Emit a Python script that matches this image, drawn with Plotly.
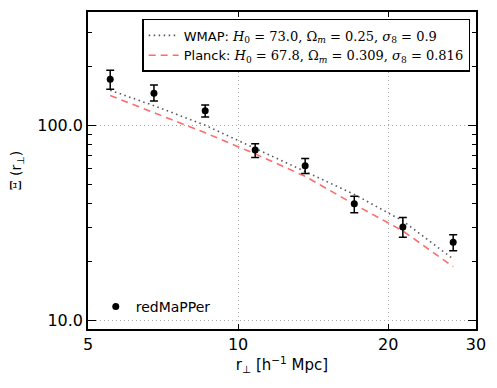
import plotly.graph_objects as go

# data
r_perp = [5.54, 6.78, 8.59, 10.82, 13.63, 17.1, 21.4, 27.0]
xi_obs = [172, 146, 118.5, 74.8, 62.1, 39.7, 30.2, 25.2]
xi_hi = [191, 160.5, 127, 80.5, 67.6, 43.4, 33.7, 27.5]
xi_lo = [153, 133, 110.4, 68.4, 56.7, 35.7, 26.7, 22.8]
wmap = [151, 126, 100, 76.5, 58, 44.3, 32.4, 20.7]
planck = [142, 116, 91.5, 71.4, 54.8, 39.4, 28.8, 18.9]

x_ticks = [5, 10, 20, 30]
y_ticks = [10, 100]
y_ticktext = ["10.0", "100.0"]
y_minor = [20, 30, 40, 50, 60, 70, 80, 90, 200, 300]

err_plus = [h - v for h, v in zip(xi_hi, xi_obs)]
err_minus = [v - l for l, v in zip(xi_lo, xi_obs)]

MATH = "font-family:'DejaVu Serif'"
wmap_name = ("WMAP: <span style=\"" + MATH + "\"><i>H</i><sub>0</sub> = 73.0, "
             "Ω<sub><i>m</i></sub> = 0.25, <i>σ</i><sub>8</sub> = 0.9</span>")
planck_name = ("Planck: <span style=\"" + MATH + "\"><i>H</i><sub>0</sub> = 67.8, "
               "Ω<sub><i>m</i></sub> = 0.309, <i>σ</i><sub>8</sub> = 0.816</span>")

fig = go.Figure()
fig.add_trace(go.Scatter(
    x=r_perp, y=wmap, mode="lines", name=wmap_name,
    line=dict(color="#555555", width=1.6, dash="1.5px,3.5px"),
    legend="legend"))
fig.add_trace(go.Scatter(
    x=r_perp, y=planck, mode="lines", name=planck_name,
    line=dict(color="#ff6b6b", width=1.6, dash="7px,5px"),
    legend="legend"))
fig.add_trace(go.Scatter(
    x=r_perp, y=xi_obs, mode="markers", name="redMaPPer",
    marker=dict(color="black", size=7),
    error_y=dict(type="data", symmetric=False, array=err_plus,
                 arrayminus=err_minus, color="black", thickness=1.5, width=4),
    legend="legend2"))

# page body adds an 8px margin; figure is sized/offset to compensate
fig.update_layout(
    width=489, height=380,
    margin=dict(l=80, r=21, t=2, b=59),
    paper_bgcolor="white", plot_bgcolor="white",
    font=dict(family="DejaVu Sans", size=14, color="black"),
    showlegend=True,
    legend=dict(x=0.985, y=0.978, xanchor="right", yanchor="top",
                bgcolor="white", bordercolor="black", borderwidth=1.5,
                font=dict(size=13), itemwidth=30, tracegroupgap=0),
    legend2=dict(x=0.02, y=0.07, xanchor="left", yanchor="middle",
                 bgcolor="rgba(0,0,0,0)", borderwidth=0,
                 font=dict(size=14), itemwidth=30),
)

fig.update_xaxes(
    type="log", range=[0.69897, 1.47712],
    tickvals=x_ticks, ticktext=[str(v) for v in x_ticks],
    ticks="inside", ticklen=5, tickwidth=1, tickcolor="black",
    showline=True, linecolor="black", linewidth=1.5, mirror="allticks",
    showgrid=True, gridcolor="#a8a8a8", griddash="1px,3px", gridwidth=1,
    zeroline=False, tickfont=dict(size=16),
    title=dict(text="r<sub>⊥</sub> [h<sup>−1</sup> Mpc]", font=dict(size=15), standoff=6),
)
fig.update_yaxes(
    type="log", range=[0.9577, 2.5796],
    tickvals=y_ticks, ticktext=y_ticktext,
    ticks="inside", ticklen=8, tickwidth=1, tickcolor="black",
    minor=dict(tickvals=y_minor, ticks="inside", ticklen=4, tickcolor="black", showgrid=False),
    showline=True, linecolor="black", linewidth=1.5, mirror="allticks",
    showgrid=True, gridcolor="#a8a8a8", griddash="1px,3px", gridwidth=1,
    zeroline=False, tickfont=dict(size=16),
    title=dict(text="<span style=\"font-family:'DejaVu Serif'\">Ξ</span> (r<sub>⊥</sub>)",
               font=dict(size=14), standoff=14),
)

fig.write_html("out.html")
